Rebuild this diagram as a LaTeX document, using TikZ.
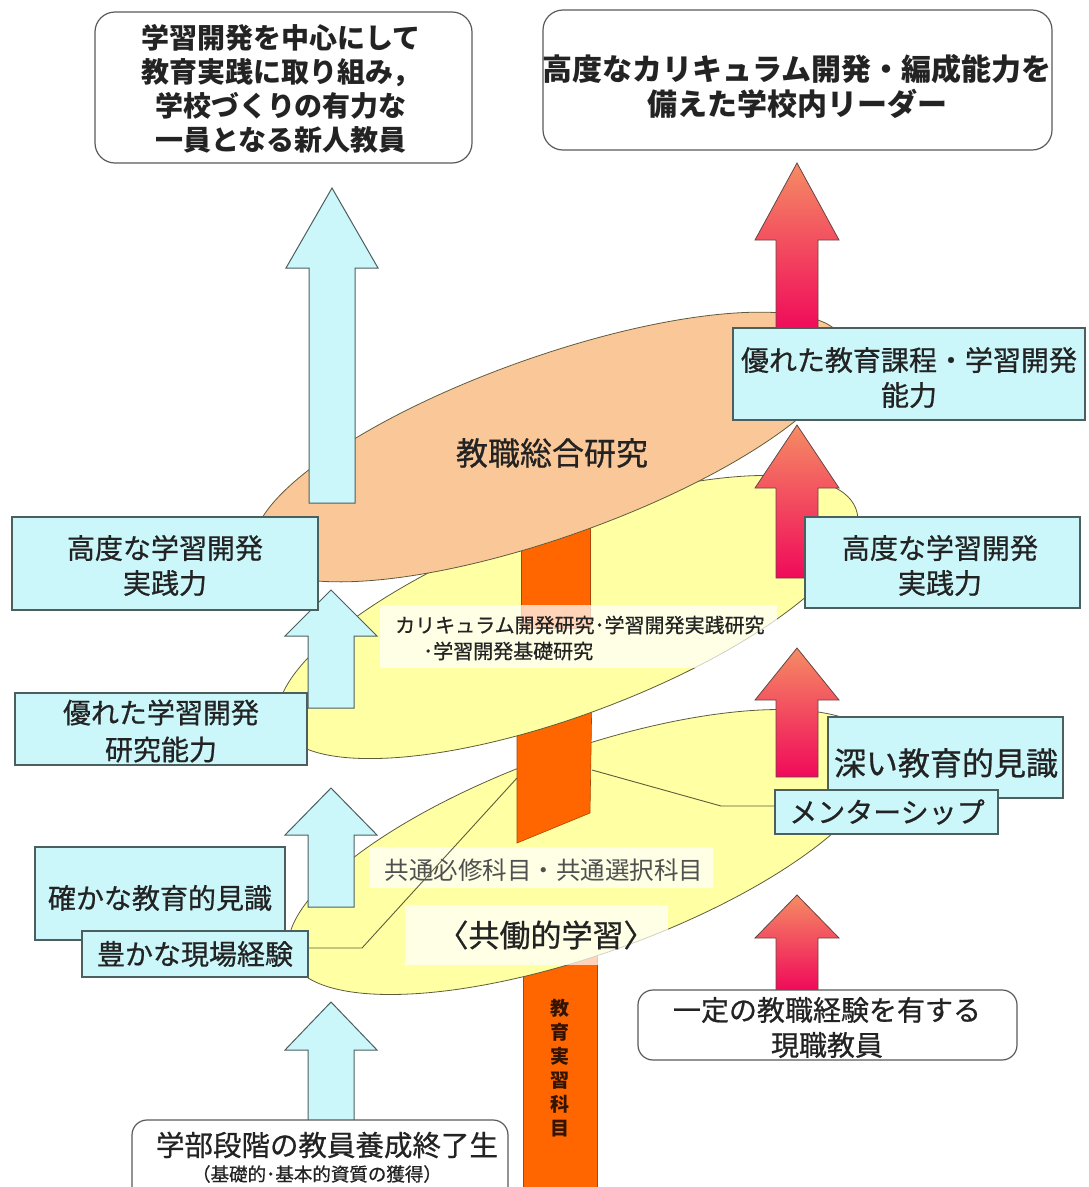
\documentclass[tikz,border=0pt]{standalone}
\usepackage{fontspec}
\newfontfamily\cjk{Noto Sans CJK JP}
\newfontfamily\cjkm{Noto Sans CJK JP}[FakeBold=0.7]
\definecolor{cyanfill}{RGB}{204,247,250}
\definecolor{boxline}{RGB}{75,95,95}
\definecolor{rline}{RGB}{90,90,90}
\definecolor{ellyellow}{RGB}{255,255,163}
\definecolor{ellorange}{RGB}{250,200,152}
\definecolor{ellline}{RGB}{95,92,60}
\definecolor{barfill}{RGB}{255,102,0}
\definecolor{barline}{RGB}{170,70,0}
\definecolor{txt}{RGB}{35,35,35}
\definecolor{subtxt}{RGB}{80,80,80}
\definecolor{arrtop}{RGB}{245,140,100}
\definecolor{arrbot}{RGB}{240,10,90}
\definecolor{arrline}{RGB}{100,70,70}
\newcommand{\blkarrow}[7]{%
  \draw[#1] (#2-#6,#5) -- (#2-#6,#4) -- (#2-#7,#4) -- (#2,#3) -- (#2+#7,#4) -- (#2+#6,#4) -- (#2+#6,#5) -- cycle;}
\begin{document}
\begin{tikzpicture}[x=1pt,y=-1pt,
  ell/.style={draw=ellline, line width=0.8pt},
  cbox/.style={draw=boxline, fill=cyanfill, line width=1.1pt, inner sep=0pt},
  rbox/.style={draw=rline, fill=white, line width=1.2pt, rounded corners=20pt, inner sep=0pt},
  lbl/.style={text=txt, align=center, inner sep=0pt, font=\cjkm\fontsize{28pt}{35pt}\selectfont},
  boldlbl/.style={font=\cjk\bfseries\fontsize{28pt}{34pt}\selectfont},
  carrow/.style={draw=boxline, fill=cyanfill, line width=1pt},
  rarrow/.style={draw=arrline, line width=0.8pt, top color=arrtop, bottom color=arrbot},
  conn/.style={draw=ellline, line width=0.9pt},
  tbox/.style={fill=white, fill opacity=0.72, inner sep=0pt},
  barp/.style={fill=barfill, draw=barline, line width=0.6pt}
]
\useasboundingbox (0,0) rectangle (1088,1187);
\clip (0,0) rectangle (1088,1187);
\fill[white] (0,0) rectangle (1088,1187);

% bottom bar (under lower ellipse)
\draw[barp] (523,930) -- (597,930) -- (597,1200) -- (523,1200) -- cycle;
% lower yellow ellipse
\draw[ell, fill=ellyellow, rotate around={19.65:(585,852)}] (585,852) ellipse [x radius=313, y radius=102];
% middle bar piece
\draw[barp] (517,690) -- (592,690) -- (590,813) -- (517,843) -- cycle;
% upper yellow ellipse
\draw[ell, fill=ellyellow, rotate around={20.6:(568,617)}] (568,617) ellipse [x radius=307.6, y radius=97.5];
% top bar piece
\draw[barp] (521,500) -- (590,500) -- (590,628) -- (521,628) -- cycle;
% orange ellipse
\draw[ell, fill=ellorange, rotate around={19.6:(550,447)}] (550,447) ellipse [x radius=312.6, y radius=90];

% vertical text on bottom bar
\node[text={rgb,255:red,50;green,20;blue,0}, align=center, inner sep=0pt,
      font=\cjk\bfseries\fontsize{19pt}{24pt}\selectfont] (jisshu) at (560,1068) {教\\育\\実\\習\\科\\目};

% connector end points
\coordinate (b2l) at (517,778);
\coordinate (b2r) at (592,770);
\coordinate (k1) at (362,948);
\coordinate (k2) at (721,806);

% text boxes (semi transparent)
\node[tbox, minimum width=397pt, minimum height=63pt] (tb1) at (578.5,636.5) {};
\node[tbox, minimum width=343pt, minimum height=41pt] (tb2) at (541.5,867.5) {};
\node[tbox, minimum width=263pt, minimum height=60pt] (tb3) at (536.5,935) {};

\node[lbl, font=\cjkm\fontsize{32pt}{36pt}\selectfont] (orgtext) at (552,453) {教職総合研究};
\node[lbl, anchor=west, font=\cjkm\fontsize{20pt}{24pt}\selectfont] (tb1a) at (395,625) {カリキュラム開発研究･学習開発実践研究};
\node[lbl, anchor=west, font=\cjkm\fontsize{20pt}{24pt}\selectfont] (tb1b) at (423,651) {･学習開発基礎研究};
\node[lbl, text=subtxt, font=\cjk\fontsize{24.5pt}{28pt}\selectfont] (tb2t) at (544,870) {共通必修科目・共通選択科目};
\node[lbl, font=\cjkm\fontsize{31pt}{34pt}\selectfont] (tb3t) at (546,935) {〈共働的学習〉};

% left arrows
\blkarrow{carrow}{332}{188}{268}{503}{23}{46}
\blkarrow{carrow}{331}{590}{636}{708}{23}{46}
\blkarrow{carrow}{331}{788}{835}{907}{23}{46}
\blkarrow{carrow}{331}{1002}{1050}{1122}{23}{46}
% right arrows
\blkarrow{rarrow}{797}{163}{240}{330}{21}{42}
\blkarrow{rarrow}{797}{425}{488}{578}{21}{42}
\blkarrow{rarrow}{797}{648}{700}{777}{21}{42}
\blkarrow{rarrow}{797}{895}{938}{990}{21}{42}

% cyan boxes left
\node[cbox, minimum width=306pt, minimum height=93pt] (lb1) at (165,563.5) {};
\node[lbl] (lb1t) at (165,565.5) {高度な学習開発\\実践力};
\node[cbox, minimum width=292pt, minimum height=72pt] (lb2) at (161,729) {};
\node[lbl, font=\cjkm\fontsize{28pt}{37pt}\selectfont] (lb2t) at (161,731) {優れた学習開発\\研究能力};
\node[cbox, minimum width=250pt, minimum height=93pt] (lb3) at (160,893.5) {};
\node[lbl] (lb3t) at (160,898) {確かな教育的見識};
\node[cbox, minimum width=226pt, minimum height=46pt] (lb4) at (195,954) {};
\node[lbl] (lb4t) at (195,954) {豊かな現場経験};

% cyan boxes right
\node[cbox, minimum width=352pt, minimum height=92pt] (rb1) at (909,374) {};
\node[lbl] (rb1t) at (909,377.5) {優れた教育課程・学習開発\\能力};
\node[cbox, minimum width=275pt, minimum height=91pt] (rb2) at (942.5,562.5) {};
\node[lbl] (rb2t) at (940,565.5) {高度な学習開発\\実践力};
\node[cbox, minimum width=235pt, minimum height=81pt] (rb3) at (945.5,757.5) {};
\node[lbl, font=\cjkm\fontsize{32pt}{36pt}\selectfont] (rb3t) at (946,763) {深い教育的見識};
\node[cbox, minimum width=223pt, minimum height=44pt] (rb4) at (886.5,812) {};
\node[lbl] (rb4t) at (887,812) {メンターシップ};

% connector lines
\draw[conn] (b2l) -- (k1) -- (k1 -| lb4.east);
\draw[conn] (b2r) -- (k2) -- (k2 -| rb4.west);

% rounded boxes
\node[rbox, minimum width=377pt, minimum height=151pt] (tlbox) at (283.5,87.5) {};
\node[lbl, boldlbl] (tltext) at (281,89) {学習開発を中心にして\\教育実践に取り組み，\\学校づくりの有力な\\一員となる新人教員};
\node[rbox, minimum width=509pt, minimum height=140pt] (trbox) at (797.5,80) {};
\node[lbl, font=\cjk\bfseries\fontsize{30pt}{35pt}\selectfont] (trtext) at (797,86) {高度なカリキュラム開発・編成能力を\\備えた学校内リーダー};
\node[rbox, rounded corners=15pt, minimum width=379pt, minimum height=70pt] (brbox) at (827.5,1025) {};
\node[lbl] (brtext) at (827,1027.5) {一定の教職経験を有する\\現職教員};
\node[rbox, rounded corners=15pt, minimum width=376pt, minimum height=100pt] (blbox) at (320,1170) {};
\node[lbl, font=\cjkm\fontsize{28.5pt}{32pt}\selectfont] (bltext) at (327,1145) {学部段階の教員養成終了生};
\node[lbl, font=\cjkm\fontsize{18.5pt}{22pt}\selectfont] (blsub) at (317,1174) {（基礎的･基本的資質の獲得）};
\end{tikzpicture}
\end{document}
